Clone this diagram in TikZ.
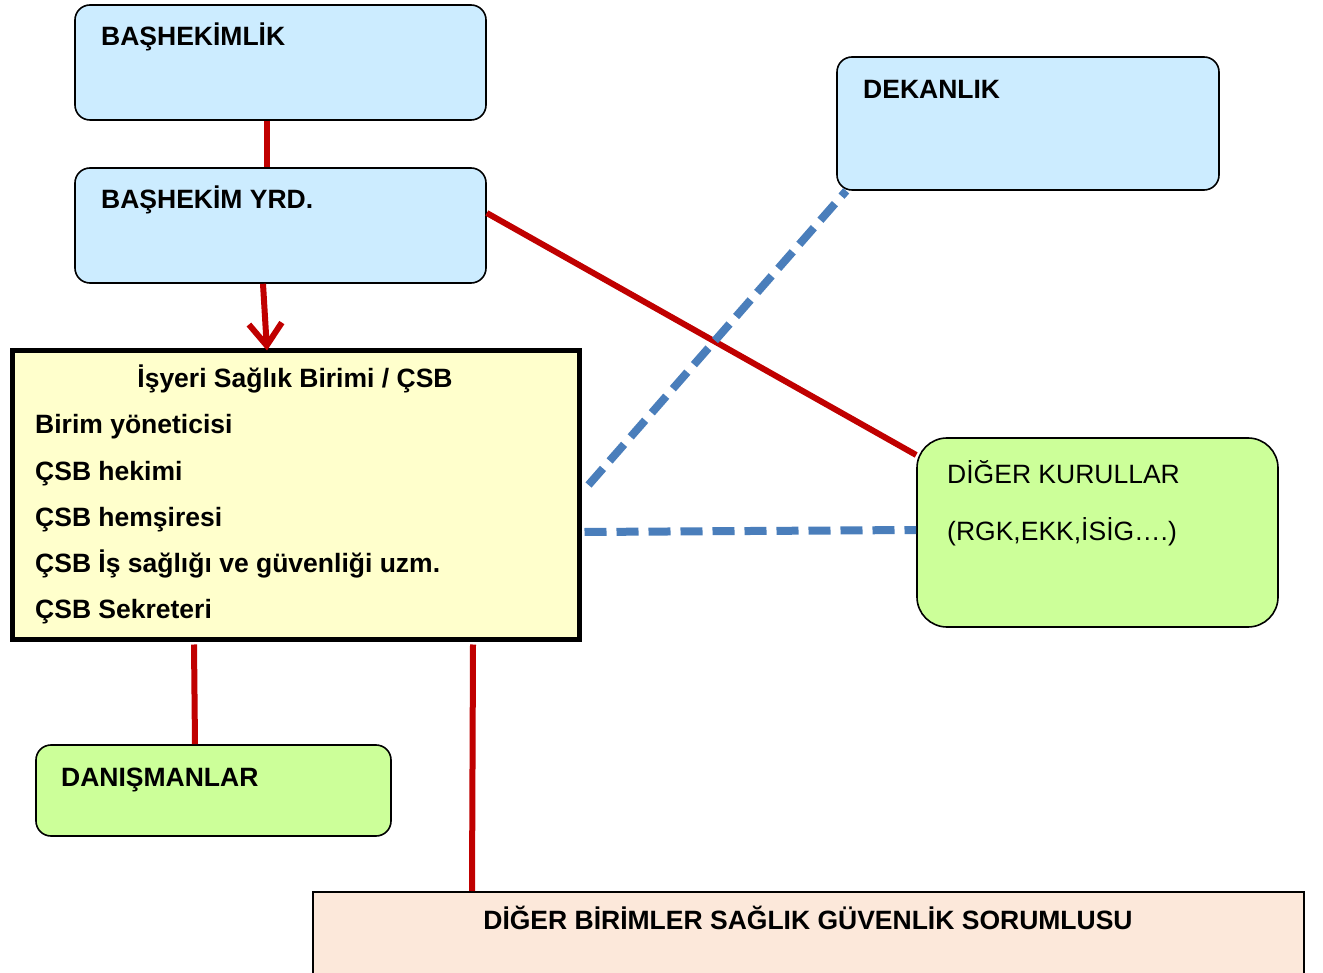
\documentclass[tikz,border=0pt]{standalone}
\usepackage{fontspec}
\setmainfont{Liberation Sans}
\usetikzlibrary{arrows.meta}
\definecolor{lblue}{HTML}{CCECFF}
\definecolor{lgreen}{HTML}{CCFF99}
\definecolor{lyellow}{HTML}{FFFFCC}
\definecolor{lpeach}{HTML}{FCE8DA}
\definecolor{dred}{HTML}{C00000}
\definecolor{mblue}{HTML}{4A7EBB}
\begin{document}
\begin{tikzpicture}[x=1pt,y=-1pt,
  box/.style={draw=black,line width=1.6pt,rounded corners=15pt,inner sep=0pt},
  bluebox/.style={box,fill=lblue},
  greenbox/.style={box,fill=lgreen},
  txt/.style={anchor=base west,inner sep=0pt,font=\fontsize{26.5}{30}\selectfont\bfseries},
  rtxt/.style={anchor=base west,inner sep=0pt,font=\fontsize{26.5}{30}\selectfont},
  redline/.style={draw=dred,line width=6pt},
  blueline/.style={draw=mblue,line width=8pt,dash pattern=on 22pt off 10pt}
]
\useasboundingbox (0,0) rectangle (1323,973);
\fill[white] (0,0) rectangle (1323,973);

% boxes
\node[bluebox,minimum width=411pt,minimum height=115pt] (bas) at (280.5,62.5) {};
\node[bluebox,minimum width=411pt,minimum height=115pt] (yrd) at (280.5,225.5) {};
\node[bluebox,minimum width=382pt,minimum height=133pt] (dek) at (1028,123.5) {};
\node[greenbox,rounded corners=30pt,minimum width=361pt,minimum height=189pt] (dig) at (1097.5,532.5) {};
\node[greenbox,minimum width=355pt,minimum height=91pt] (dan) at (213.5,790.5) {};
\node[draw=black,line width=5pt,fill=lyellow,inner sep=0pt,minimum width=567pt,minimum height=288pt] (csb) at (295.5,495) {};
\node[draw=black,line width=2pt,fill=lpeach,inner sep=0pt,minimum width=991pt,minimum height=100pt] (bot) at (808.5,942) {};

% texts
\node[txt] (t1) at (101,46) {BAŞHEKİMLİK};
\node[txt] (t2) at (101,209) {BAŞHEKİM YRD.};
\node[txt] (t3) at (863,99) {DEKANLIK};
\node[txt,anchor=base] (t4) at (295,388) {İşyeri Sağlık Birimi / ÇSB};
\node[txt] (t5) at (35,434) {Birim yöneticisi};
\node[txt] (t6) at (35,480) {ÇSB hekimi};
\node[txt] (t7) at (35,526) {ÇSB hemşiresi};
\node[txt] (t8) at (35,572) {ÇSB İş sağlığı ve güvenliği uzm.};
\node[txt] (t9) at (35,618) {ÇSB Sekreteri};
\node[rtxt] (t10) at (947,483) {DİĞER KURULLAR};
\node[rtxt] (t11) at (947,540) {(RGK,EKK,İSİG….)};
\node[txt] (t12) at (61,786) {DANIŞMANLAR};
\node[txt,anchor=base] (t13) at (808,929) {DİĞER BİRİMLER SAĞLIK GÜVENLİK SORUMLUSU};

% connectors
\draw[redline] ([xshift=-13.5pt]bas.south) -- ([xshift=-13.5pt]yrd.north);
\draw[redline,-{Straight Barb[length=22pt,width=33pt,line width=6pt]}] ([xshift=-17.5pt]yrd.south) -- ([xshift=-28.5pt,yshift=-2pt]csb.north);
\draw[redline] ([yshift=12.5pt]yrd.east) -- ([yshift=77.5pt]dig.west);
\draw[redline] ([xshift=-101.5pt,yshift=-3pt]csb.south) -- ([xshift=-18.5pt]dan.north);
\draw[redline] ([xshift=177.5pt,yshift=-3pt]csb.south) -- ([xshift=-336.5pt]bot.north);
\draw[blueline] ([xshift=7pt,yshift=10pt]csb.east) -- ([xshift=10pt]dek.south west);
\draw[blueline] ([xshift=3pt,yshift=-37pt]csb.east) -- ([yshift=2.5pt]dig.west);
\end{tikzpicture}
\end{document}
